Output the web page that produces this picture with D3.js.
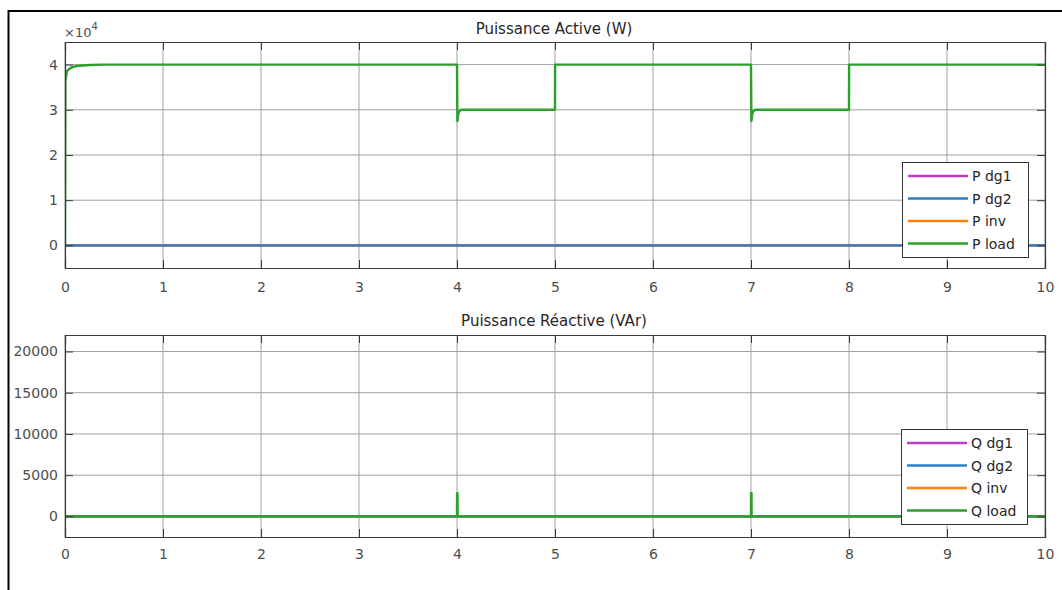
<!DOCTYPE html>
<html>
<head>
<meta charset="utf-8">
<script src="https://cdn.jsdelivr.net/npm/d3@7"></script>
<style>
  body { margin: 0; background: #fff; }
  svg text { font-family: "DejaVu Sans", "Liberation Sans", Arial, sans-serif; }
</style>
</head>
<body>
<svg id="chart" width="1062" height="590"></svg>
<script>
// time axis ticks (s)
var timeTicks = [0, 1, 2, 3, 4, 5, 6, 7, 8, 9, 10];

// active power, W
var pLoadT = [0, 0.004, 0.02, 0.06, 0.12, 0.25, 0.4, 3.999, 4.0, 4.004, 4.015, 4.04, 4.999, 5.0, 5.001, 6.999, 7.0, 7.004, 7.015, 7.04, 7.999, 8.0, 8.001, 10];
var pLoadV = [0, 36500, 38600, 39300, 39700, 39900, 40000, 40000, 40000, 27500, 29400, 30000, 30000, 30000, 40000, 40000, 40000, 27500, 29400, 30000, 30000, 30000, 40000, 40000];
var pDg1T = [0, 10], pDg1V = [0, 0];
var pDg2T = [0, 10], pDg2V = [0, 0];
var pInvT = [0, 10], pInvV = [0, 0];
var pTicks = [0, 10000, 20000, 30000, 40000];

// reactive power, VAr
var qLoadT = [0, 3.999, 4.0, 4.001, 4.005, 4.006, 6.999, 7.0, 7.001, 7.005, 7.006, 10];
var qLoadV = [0, 0, 0, 2800, 2800, 0, 0, 0, 2800, 2800, 0, 0];
var qDg1T = [0, 10], qDg1V = [0, 0];
var qDg2T = [0, 10], qDg2V = [0, 0];
var qInvT = [0, 10], qInvV = [0, 0];
var qTicks = [0, 5000, 10000, 15000, 20000];

var colors = { dg1: "#c43cc4", dg2: "#2b7fc4", inv: "#ff7f0e", load: "#2ca02c" };

var svg = d3.select("#chart");

// outer figure frame
svg.append("rect").attr("x", 8.5).attr("y", 11).attr("width", 1100).attr("height", 700)
  .attr("fill", "none").attr("stroke", "#000").attr("stroke-width", 2);

var x = d3.scaleLinear().domain([0, 10]).range([65, 1045]);

function zip(t, v) { return t.map(function(d, i) { return [d, v[i]]; }); }

function panel(cfg) {
  var y = cfg.y;
  var top = y.range()[1], bot = y.range()[0];
  var g = svg.append("g");

  // grid
  g.append("g").selectAll("line").data(timeTicks).enter().append("line")
    .attr("x1", function(d) { return x(d); }).attr("x2", function(d) { return x(d); })
    .attr("y1", top).attr("y2", bot).attr("stroke", "#a0a0a0").attr("stroke-width", 1);
  g.append("g").selectAll("line").data(cfg.ticks).enter().append("line")
    .attr("y1", function(d) { return y(d); }).attr("y2", function(d) { return y(d); })
    .attr("x1", 65).attr("x2", 1045).attr("stroke", "#a0a0a0").attr("stroke-width", 1);

  // clip
  var clipId = "clip" + cfg.id;
  svg.append("clipPath").attr("id", clipId).append("rect")
    .attr("x", 65).attr("y", top).attr("width", 980).attr("height", bot - top);

  var line = d3.line().x(function(d) { return x(d[0]); }).y(function(d) { return y(d[1]); });
  var lines = g.append("g").attr("clip-path", "url(#" + clipId + ")");
  cfg.draw.forEach(function(s) {
    lines.append("path").datum(zip(s.t, s.v)).attr("d", line)
      .attr("fill", "none").attr("stroke", s.color).attr("stroke-width", 2.4)
      .attr("stroke-linejoin", "round");
  });

  // axes, ticks inward
  var axB = g.append("g").attr("transform", "translate(0," + bot + ")")
    .call(d3.axisBottom(x).tickValues(timeTicks).tickSize(-8).tickPadding(cfg.xPad).tickFormat(d3.format("d")));
  var axT = g.append("g").attr("transform", "translate(0," + top + ")")
    .call(d3.axisTop(x).tickValues(timeTicks).tickSize(-8).tickFormat(""));
  var axL = g.append("g").attr("transform", "translate(65,0)")
    .call(d3.axisLeft(y).tickValues(cfg.ticks).tickSize(-8).tickPadding(7).tickFormat(cfg.fmt));
  var axR = g.append("g").attr("transform", "translate(1045,0)")
    .call(d3.axisRight(y).tickValues(cfg.ticks).tickSize(-8).tickFormat(""));
  [axB, axT, axL, axR].forEach(function(a) {
    a.select(".domain").attr("stroke", "#3a3a3a").attr("stroke-width", 1.2);
    a.selectAll(".tick line").attr("stroke", "#3a3a3a");
    a.selectAll(".tick text").attr("fill", "#4d4d4d")
      .style("font-family", "'DejaVu Sans', sans-serif").style("font-size", "14px");
  });

  // title
  g.append("text").attr("x", 554).attr("y", cfg.titleY).attr("text-anchor", "middle")
    .attr("fill", "#262626").style("font-size", "15px").text(cfg.title);

  // legend
  var lg = g.append("g");
  lg.append("rect").attr("x", cfg.leg[0] + 0.5).attr("y", cfg.leg[1] + 0.5)
    .attr("width", 126).attr("height", 95).attr("fill", "#fff")
    .attr("stroke", "#333").attr("stroke-width", 1);
  cfg.legend.forEach(function(s, i) {
    var yy = cfg.leg[1] + 14 + i * 22.5;
    lg.append("line").attr("x1", cfg.leg[0] + 6).attr("x2", cfg.leg[0] + 66)
      .attr("y1", yy).attr("y2", yy).attr("stroke", s.color).attr("stroke-width", 2.4);
    lg.append("text").attr("x", cfg.leg[0] + 70).attr("y", yy + 5)
      .attr("fill", "#262626").style("font-size", "14px").text(s.name);
  });
}

// top panel
var yTop = d3.scaleLinear().domain([-5000, 45000]).range([268, 42]);
panel({
  id: "p", y: yTop, ticks: pTicks, title: "Puissance Active (W)", titleY: 34, xPad: 14,
  fmt: function(d) { return d / 10000; },
  leg: [902, 162],
  draw: [
    { t: pDg1T, v: pDg1V, color: colors.dg1 },
    { t: pInvT, v: pInvV, color: colors.inv },
    { t: pDg2T, v: pDg2V, color: colors.dg2 },
    { t: pLoadT, v: pLoadV, color: colors.load }
  ],
  legend: [
    { name: "P dg1", color: colors.dg1 },
    { name: "P dg2", color: colors.dg2 },
    { name: "P inv", color: colors.inv },
    { name: "P load", color: colors.load }
  ]
});

// exponent label
var expo = svg.append("text").attr("x", 64).attr("y", 37).attr("fill", "#4d4d4d").style("font-size", "13px");
expo.append("tspan").text("\u00d710");
expo.append("tspan").attr("dy", -7).style("font-size", "10px").text("4");

// bottom panel
var yBot = d3.scaleLinear().domain([-2500, 22000]).range([537, 335]);
panel({
  id: "q", y: yBot, ticks: qTicks, title: "Puissance R\u00e9active (VAr)", titleY: 326, xPad: 12,
  fmt: d3.format("d"),
  leg: [901, 429],
  draw: [
    { t: qDg1T, v: qDg1V, color: colors.dg1 },
    { t: qInvT, v: qInvV, color: colors.inv },
    { t: qDg2T, v: qDg2V, color: colors.dg2 },
    { t: qLoadT, v: qLoadV, color: colors.load }
  ],
  legend: [
    { name: "Q dg1", color: colors.dg1 },
    { name: "Q dg2", color: colors.dg2 },
    { name: "Q inv", color: colors.inv },
    { name: "Q load", color: colors.load }
  ]
});
</script>
</body>
</html>
